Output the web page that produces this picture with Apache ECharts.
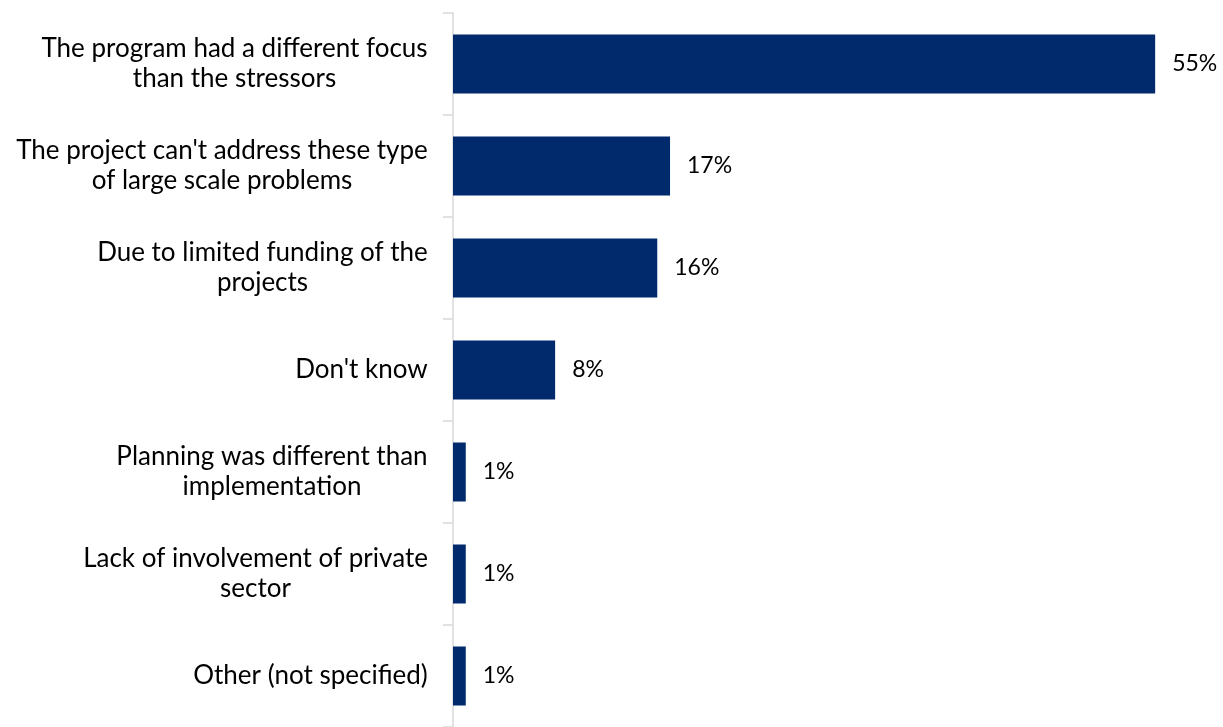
<!DOCTYPE html>
<html>
<head>
<meta charset="utf-8">
<script src="https://cdn.jsdelivr.net/npm/echarts@6/dist/echarts.min.js"></script>
<style>
  html, body { margin: 0; padding: 0; background: #ffffff; }
  #chart { width: 1223px; height: 727px; }
</style>
</head>
<body>
<div id="chart"></div>
<script>
// Reasons given, top to bottom
const categories = [
  'The program had a different focus\nthan the stressors',
  "The project can't address these type\nof large scale problems",
  'Due to limited funding of the\nprojects',
  "Don't know",
  'Planning was different than\nimplementation',
  'Lack of involvement of private\nsector',
  'Other (not specified)'
];
// Share of respondents, percent
const shares = [55, 17, 16, 8, 1, 1, 1];

const FONT = 'Lato';
const CAT_SIZE = 26;

// Multi-line labels are centred line by line, while the whole block sits
// right-aligned against the axis: measure the widest line and pad the
// right side of a centre-aligned label by that width.
const ctx = document.createElement('canvas').getContext('2d');
ctx.font = CAT_SIZE + 'px ' + FONT;
const categoryItems = categories.map(text => {
  const w = Math.max(...text.split('\n').map(line => ctx.measureText(line).width));
  return {
    value: text,
    textStyle: { align: 'center', padding: [0, Math.ceil(w), 0, 0] }
  };
});

const chart = echarts.init(document.getElementById('chart'));
chart.setOption({
  animation: false,
  textStyle: { fontFamily: FONT },
  grid: { left: 453, right: 4, top: 13, bottom: -6, containLabel: false },
  xAxis: {
    type: 'value',
    min: 0,
    max: 60,
    show: false
  },
  yAxis: {
    type: 'category',
    data: categoryItems,
    inverse: true,
    axisLine: { show: true, lineStyle: { color: '#d9d9d9', width: 1.5 } },
    axisTick: { show: true, length: 10, lineStyle: { color: '#d9d9d9', width: 1.5 } },
    axisLabel: {
      interval: 0,
      color: '#000000',
      fontFamily: FONT,
      fontSize: CAT_SIZE,
      lineHeight: 30,
      margin: 25
    },
    splitLine: { show: false }
  },
  series: [{
    type: 'bar',
    data: shares,
    barWidth: 59,
    itemStyle: { color: '#002a6c' },
    label: {
      show: true,
      position: 'right',
      distance: 17,
      color: '#000000',
      fontFamily: FONT,
      fontSize: 23,
      formatter: p => p.value + '%'
    }
  }]
});
</script>
</body>
</html>
